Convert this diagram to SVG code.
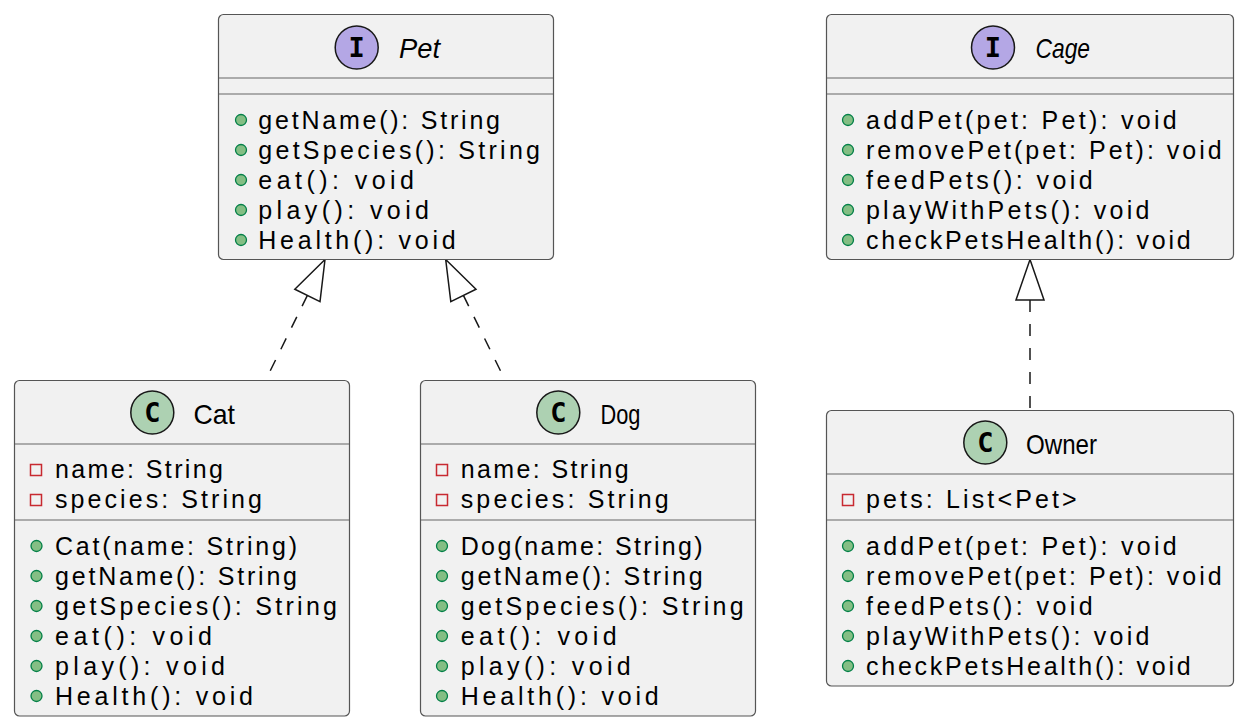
<svg xmlns="http://www.w3.org/2000/svg" width="1248" height="728" viewBox="0 0 1248 728">
<style>
.box{fill:#F1F1F1;stroke:#555555;stroke-width:1.2}
.div{stroke:#666666;stroke-width:1.2}
.ci{fill:#B4A7E5;stroke:#181818;stroke-width:1.5}
.cc{fill:#ADD1B2;stroke:#181818;stroke-width:1.5}
.glyph{font-family:"DejaVu Sans Mono",monospace;font-weight:bold;font-size:27px;fill:#000;text-anchor:middle}
.title{font-family:"Liberation Sans",Arial,sans-serif;font-size:28px;fill:#000}
.it{font-style:italic}
.m{font-family:"Liberation Sans",Arial,sans-serif;font-size:25px;fill:#000}
.pub{fill:#84BE84;stroke:#038048;stroke-width:1.3}
.priv{fill:none;stroke:#C82930;stroke-width:1.5}
.edge{stroke:#181818;stroke-width:1.5;fill:none;stroke-dasharray:12,12}
.head{fill:#FFFFFF;stroke:#181818;stroke-width:1.5}
</style>
<rect width="1248" height="728" fill="#FFFFFF"/>
<g id="connectors">
<line class="edge" x1="307.4" y1="295.4" x2="265.7" y2="380"/>
<polygon class="head" points="325,259.5 320,301.6 294.8,289.2"/>
<line class="edge" x1="463.4" y1="295.4" x2="505" y2="380"/>
<polygon class="head" points="445.7,259.5 476,289.2 450.8,301.6"/>
<line class="edge" x1="1030" y1="300" x2="1030" y2="410"/>
<polygon class="head" points="1030,259.5 1044,300 1016,300"/>
</g>
<g id="Pet">
<rect class="box" x="218.5" y="14.5" width="335" height="245" rx="5"/>
<circle class="ci" cx="356.7" cy="47.5" r="21.5"/>
<text class="glyph" x="356.7" y="57">I</text>
<text class="title it" x="399" y="58" textLength="41" lengthAdjust="spacingAndGlyphs">Pet</text>
<line class="div" x1="219" y1="78" x2="553" y2="78"/>
<line class="div" x1="219" y1="94" x2="553" y2="94"/>
<circle class="pub" cx="241" cy="120" r="5.5"/>
<text class="m" x="258.3" y="128.5" textLength="241.7" lengthAdjust="spacing">getName(): String</text>
<circle class="pub" cx="241" cy="150" r="5.5"/>
<text class="m" x="258.3" y="158.5" textLength="281.7" lengthAdjust="spacing">getSpecies(): String</text>
<circle class="pub" cx="241" cy="180" r="5.5"/>
<text class="m" x="258.3" y="188.5" textLength="155.7" lengthAdjust="spacing">eat(): void</text>
<circle class="pub" cx="241" cy="210" r="5.5"/>
<text class="m" x="258.3" y="218.5" textLength="170.7" lengthAdjust="spacing">play(): void</text>
<circle class="pub" cx="241" cy="240" r="5.5"/>
<text class="m" x="258.3" y="248.5" textLength="197.3" lengthAdjust="spacing">Health(): void</text>
</g>
<g id="Cage">
<rect class="box" x="826.5" y="14.5" width="407" height="245" rx="5"/>
<circle class="ci" cx="993" cy="47.5" r="21.5"/>
<text class="glyph" x="993" y="57">I</text>
<text class="title it" x="1035.5" y="58" textLength="54.5" lengthAdjust="spacingAndGlyphs">Cage</text>
<line class="div" x1="827" y1="78" x2="1233" y2="78"/>
<line class="div" x1="827" y1="94" x2="1233" y2="94"/>
<circle class="pub" cx="848" cy="120" r="5.5"/>
<text class="m" x="866" y="128.5" textLength="310.7" lengthAdjust="spacing">addPet(pet: Pet): void</text>
<circle class="pub" cx="848" cy="150" r="5.5"/>
<text class="m" x="866" y="158.5" textLength="355.7" lengthAdjust="spacing">removePet(pet: Pet): void</text>
<circle class="pub" cx="848" cy="180" r="5.5"/>
<text class="m" x="866" y="188.5" textLength="226.7" lengthAdjust="spacing">feedPets(): void</text>
<circle class="pub" cx="848" cy="210" r="5.5"/>
<text class="m" x="866" y="218.5" textLength="283.3" lengthAdjust="spacing">playWithPets(): void</text>
<circle class="pub" cx="848" cy="240" r="5.5"/>
<text class="m" x="866" y="248.5" textLength="324.7" lengthAdjust="spacing">checkPetsHealth(): void</text>
</g>
<g id="Cat">
<rect class="box" x="14.5" y="380.5" width="335" height="335.5" rx="5"/>
<circle class="cc" cx="152.3" cy="412.5" r="21.5"/>
<text class="glyph" x="152.3" y="422">C</text>
<text class="title" x="193.5" y="424" textLength="41.5" lengthAdjust="spacingAndGlyphs">Cat</text>
<line class="div" x1="15" y1="444" x2="349" y2="444"/>
<line class="div" x1="15" y1="520" x2="349" y2="520"/>
<rect class="priv" x="30.5" y="464.5" width="11" height="11"/>
<text class="m" x="55" y="477.5" textLength="168" lengthAdjust="spacing">name: String</text>
<rect class="priv" x="30.5" y="494.5" width="11" height="11"/>
<text class="m" x="55" y="507.5" textLength="207" lengthAdjust="spacing">species: String</text>
<circle class="pub" cx="36.5" cy="546" r="5.5"/>
<text class="m" x="55" y="554.5" textLength="242" lengthAdjust="spacing">Cat(name: String)</text>
<circle class="pub" cx="36.5" cy="576" r="5.5"/>
<text class="m" x="55" y="584.5" textLength="242" lengthAdjust="spacing">getName(): String</text>
<circle class="pub" cx="36.5" cy="606" r="5.5"/>
<text class="m" x="55" y="614.5" textLength="282" lengthAdjust="spacing">getSpecies(): String</text>
<circle class="pub" cx="36.5" cy="636" r="5.5"/>
<text class="m" x="55" y="644.5" textLength="157" lengthAdjust="spacing">eat(): void</text>
<circle class="pub" cx="36.5" cy="666" r="5.5"/>
<text class="m" x="55" y="674.5" textLength="170" lengthAdjust="spacing">play(): void</text>
<circle class="pub" cx="36.5" cy="696" r="5.5"/>
<text class="m" x="55" y="704.5" textLength="198" lengthAdjust="spacing">Health(): void</text>
</g>
<g id="Dog">
<rect class="box" x="420.5" y="380.5" width="335" height="335.5" rx="5"/>
<circle class="cc" cx="558.3" cy="412.5" r="21.5"/>
<text class="glyph" x="558.3" y="422">C</text>
<text class="title" x="600.5" y="424" textLength="40" lengthAdjust="spacingAndGlyphs">Dog</text>
<line class="div" x1="421" y1="444" x2="755" y2="444"/>
<line class="div" x1="421" y1="520" x2="755" y2="520"/>
<rect class="priv" x="436.5" y="464.5" width="11" height="11"/>
<text class="m" x="460.7" y="477.5" textLength="168" lengthAdjust="spacing">name: String</text>
<rect class="priv" x="436.5" y="494.5" width="11" height="11"/>
<text class="m" x="460.7" y="507.5" textLength="208" lengthAdjust="spacing">species: String</text>
<circle class="pub" cx="442" cy="546" r="5.5"/>
<text class="m" x="460.7" y="554.5" textLength="242" lengthAdjust="spacing">Dog(name: String)</text>
<circle class="pub" cx="442" cy="576" r="5.5"/>
<text class="m" x="460.7" y="584.5" textLength="242" lengthAdjust="spacing">getName(): String</text>
<circle class="pub" cx="442" cy="606" r="5.5"/>
<text class="m" x="460.7" y="614.5" textLength="283" lengthAdjust="spacing">getSpecies(): String</text>
<circle class="pub" cx="442" cy="636" r="5.5"/>
<text class="m" x="460.7" y="644.5" textLength="156" lengthAdjust="spacing">eat(): void</text>
<circle class="pub" cx="442" cy="666" r="5.5"/>
<text class="m" x="460.7" y="674.5" textLength="170" lengthAdjust="spacing">play(): void</text>
<circle class="pub" cx="442" cy="696" r="5.5"/>
<text class="m" x="460.7" y="704.5" textLength="198" lengthAdjust="spacing">Health(): void</text>
</g>
<g id="Owner">
<rect class="box" x="826.5" y="410.5" width="407" height="275.5" rx="5"/>
<circle class="cc" cx="985.3" cy="442.5" r="21.5"/>
<text class="glyph" x="985.3" y="452">C</text>
<text class="title" x="1026" y="454" textLength="71" lengthAdjust="spacingAndGlyphs">Owner</text>
<line class="div" x1="827" y1="474" x2="1233" y2="474"/>
<line class="div" x1="827" y1="520" x2="1233" y2="520"/>
<rect class="priv" x="842.5" y="494.5" width="11" height="11"/>
<text class="m" x="866" y="507.5" textLength="210.7" lengthAdjust="spacing">pets: List&lt;Pet&gt;</text>
<circle class="pub" cx="848" cy="546" r="5.5"/>
<text class="m" x="866" y="554.5" textLength="310.7" lengthAdjust="spacing">addPet(pet: Pet): void</text>
<circle class="pub" cx="848" cy="576" r="5.5"/>
<text class="m" x="866" y="584.5" textLength="355.7" lengthAdjust="spacing">removePet(pet: Pet): void</text>
<circle class="pub" cx="848" cy="606" r="5.5"/>
<text class="m" x="866" y="614.5" textLength="226.7" lengthAdjust="spacing">feedPets(): void</text>
<circle class="pub" cx="848" cy="636" r="5.5"/>
<text class="m" x="866" y="644.5" textLength="283.3" lengthAdjust="spacing">playWithPets(): void</text>
<circle class="pub" cx="848" cy="666" r="5.5"/>
<text class="m" x="866" y="674.5" textLength="324.7" lengthAdjust="spacing">checkPetsHealth(): void</text>
</g>
</svg>
